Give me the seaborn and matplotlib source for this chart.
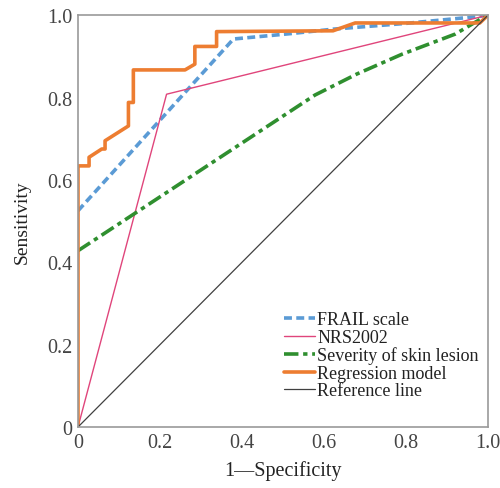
import numpy as np
import pandas as pd
import matplotlib
matplotlib.use('Agg')
import matplotlib.pyplot as plt
import seaborn as sns

# ROC curve points
frail_x = [0, 0.379, 0.517, 0.623, 0.80, 0.98, 1.0]
frail_y = [0.525, 0.942, 0.955, 0.966, 0.98, 0.997, 1.0]

nrs_x = [0, 0.216, 1.0]
nrs_y = [0, 0.808, 1.0]

skin_x = [0, 0.578, 0.68, 0.79, 0.92, 0.988, 1.0]
skin_y = [0.428, 0.806, 0.857, 0.905, 0.954, 0.994, 1.0]

reg_x = [0, 0, 0.027, 0.027, 0.058, 0.066, 0.066, 0.123, 0.123, 0.135, 0.135,
         0.261, 0.285, 0.285, 0.338, 0.338, 0.622, 0.676, 0.98, 1.0]
reg_y = [0, 0.634, 0.634, 0.655, 0.675, 0.675, 0.695, 0.731, 0.788, 0.788, 0.867,
         0.867, 0.881, 0.924, 0.924, 0.960, 0.962, 0.981, 0.981, 1.0]

ref_x = [0, 1]
ref_y = [0, 1]

labels = ['FRAIL scale', 'NRS2002', 'Severity of skin lesion', 'Regression model', 'Reference line']
colors = ['#5b9bd5', '#e0457b', '#2f8f2f', '#ed7d31', '#404040']
ticks = [0, 0.2, 0.4, 0.6, 0.8, 1.0]
tick_labels = ['0', '0.2', '0.4', '0.6', '0.8', '1.0']

sns.set_style('white')
plt.rcParams['font.family'] = ['Liberation Serif', 'DejaVu Serif']

fig = plt.figure(figsize=(5, 4.89), dpi=100)
ax = fig.add_axes([0.156, 0.1247, 0.82, 0.8423])

kw = dict(sort=False, estimator=None, ax=ax)
sns.lineplot(x=frail_x, y=frail_y, color=colors[0], lw=2.6,
             linestyle=(0, (2.2, 1.2)), label=labels[0], **kw)
sns.lineplot(x=nrs_x, y=nrs_y, color=colors[1], lw=1.0, label=labels[1], **kw)
sns.lineplot(x=skin_x, y=skin_y, color=colors[2], lw=2.6,
             linestyle=(0, (4, 1.3, 1.2, 1.3)), label=labels[2], **kw)
sns.lineplot(x=reg_x, y=reg_y, color=colors[3], lw=2.6, label=labels[3], **kw)
sns.lineplot(x=ref_x, y=ref_y, color=colors[4], lw=0.9, label=labels[4], **kw)

ax.set_xlim(0, 1)
ax.set_ylim(0, 1)
ax.set_xticks(ticks)
ax.set_xticklabels(tick_labels)
ax.set_yticks(ticks)
ax.set_yticklabels(tick_labels)
ax.tick_params(length=0, labelsize=14.5, colors='#444444', pad=4)

for s in ax.spines.values():
    s.set_color('#9a9a9a')
    s.set_linewidth(1.2)

ax.set_xlabel('1\u2014Specificity', fontsize=14.5, color='#222222', labelpad=6)
ax.set_ylabel('Sensitivity', fontsize=14, color='#222222', labelpad=12)

leg = ax.legend(loc='lower right', bbox_to_anchor=(1.0, 0.045), frameon=False,
                fontsize=13, handlelength=1.7, handletextpad=0.15, labelspacing=0.03,
                borderaxespad=0.1)
for t in leg.get_texts():
    t.set_color('#222222')

fig.savefig('out.png', dpi=100)
